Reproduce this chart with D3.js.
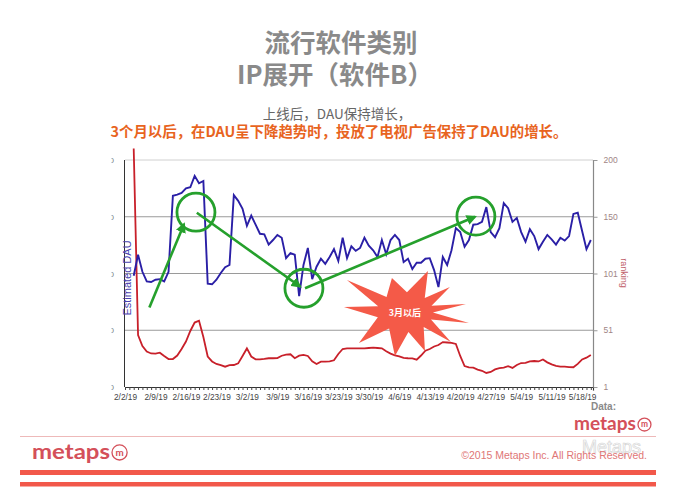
<!DOCTYPE html>
<html><head><meta charset="utf-8">
<script src="https://cdn.jsdelivr.net/npm/d3@7"></script>
<style>body{margin:0;background:#fff}svg{display:block}</style>
</head><body><svg id="c" width="674" height="495"></svg>
<script>
// ---------------- data ----------------
const firstDataDay = "2019-02-04";   // daily series start
const axisStart = "2019-02-02";
const axisEnd = "2019-05-20T12:00";
const weekLabels = ["2/2/19","2/9/19","2/16/19","2/23/19","3/2/19","3/9/19","3/16/19","3/23/19","3/30/19","4/6/19","4/13/19","4/20/19","4/27/19","5/4/19","5/11/19","5/18/19"];
const leftTickValues = [0, 1, 2, 3, 4];
const leftTickLabels = ["0","10,000","20,000","30,000","40,000"];
const rightTickValues = [1, 50.75, 100.5, 150.25, 200];
const rightTickLabels = ["1","51","101","150","200"];

// Estimated DAU (left axis, in 10k units)
const estimatedDAU = [1.96,2.33,2.03,1.86,1.85,1.89,1.90,1.86,2.03,3.37,3.39,3.42,3.50,3.52,3.72,3.59,3.63,1.82,1.81,1.89,
2.01,2.11,2.15,3.38,3.28,3.14,2.84,3.02,2.86,2.70,2.69,2.51,2.59,2.68,2.63,2.27,2.36,2.33,1.60,2.15,
2.45,1.90,2.12,2.26,2.17,2.29,2.43,2.22,2.63,2.27,2.48,2.40,2.45,2.63,2.49,2.41,2.29,2.59,2.34,2.59,
2.68,2.59,2.20,2.26,2.08,2.19,2.19,2.26,2.27,2.06,1.76,2.29,2.15,2.41,2.80,2.73,2.47,2.59,2.86,2.87,
2.91,3.17,2.73,2.64,2.80,3.24,3.15,2.91,2.98,2.73,2.56,2.78,2.66,2.43,2.56,2.68,2.60,2.51,2.63,2.58,
2.66,3.05,3.07,2.75,2.43,2.59];
// ranking (right axis)
const ranking = [210,46.6,36.9,32.1,30.4,30.3,31.1,28.2,25.5,25.5,28.6,34.3,40.9,50.1,57.5,59.1,44.8,27.7,23.4,21.2,
20.1,18.8,20.1,20.3,21.7,28.2,34.8,27.7,25.3,25.3,25.7,26.2,26.2,26.4,28.4,29.4,29.7,26.2,28.5,29.1,
28.2,23.5,21.2,23.2,23.2,23.4,24.4,29.9,34.3,34.9,34.9,34.9,34.9,34.9,35.2,35.5,35.2,34.9,32.3,30.3,
28.8,27.9,26.6,26.2,26.1,25.0,28.6,32.8,34.3,36.5,37.8,40.4,40.0,39.6,38.7,28.2,19.4,18.2,17.9,16.3,
15.2,13.3,14.2,16.4,17.5,18.0,19.3,17.7,20.3,22.0,22.2,23.4,23.8,23.4,25.1,22.6,20.8,19.5,18.8,18.8,
18.5,18.3,21.3,25.2,26.7,29.1];

// annotations in data units: [days after axis start, DAU value]
const circles = [[16.3,3.08],[41.1,1.74],[80.6,3.01]];
const arrows = [[[5.6,1.40],[13.55,2.87]],[[16.5,3.07],[40.2,1.77]],[[41.35,1.74],[80.4,3.0]]];
const burst = {day:64.3, value:1.32, label:"3月以后"};

// ---------------- chart ----------------
const svg = d3.select("#c");
const L=125, R=593, T=160, B=387;
const t0 = d3.isoParse(axisStart);
const x = d3.scaleTime().domain([t0, d3.isoParse(axisEnd)]).range([L,R]);
const yL = d3.scaleLinear().domain([0,4]).range([B,T]);
const yR = d3.scaleLinear().domain([1,200]).range([B,T]);
const dayAt = d => new Date(t0.getTime() + d*86400000);
const d0 = d3.isoParse(firstDataDay);
const dates = estimatedDAU.map((_,i)=>d3.timeDay.offset(d0,i));
const defs = svg.append("defs");

// gridlines
svg.append("g").selectAll("line").data(leftTickValues.slice(1)).join("line")
  .attr("x1",L).attr("x2",R).attr("y1",d=>yL(d)).attr("y2",d=>yL(d))
  .attr("stroke",d=>d===4?"#d0d0d0":"#9a9a9a").attr("stroke-width",1);

// left axis labels (clipped like the source)
defs.append("clipPath").attr("id","lc").append("rect")
  .attr("x",111.5).attr("y",140).attr("width",20).attr("height",260);
svg.append("g").attr("clip-path","url(#lc)").selectAll("text").data(leftTickValues).join("text")
  .attr("x",114).attr("y",d=>yL(d)+3).attr("text-anchor","end")
  .attr("font-family","Liberation Sans, Arial").attr("font-size",8).attr("fill","#777")
  .text((d,i)=>leftTickLabels[i]);

// axes lines
svg.append("line").attr("x1",L-0.5).attr("x2",L-0.5).attr("y1",T).attr("y2",B).attr("stroke","#333").attr("stroke-width",1);
svg.append("line").attr("x1",R+0.5).attr("x2",R+0.5).attr("y1",T).attr("y2",B+4).attr("stroke","#888").attr("stroke-width",1.2);

// bottom axis: daily minor ticks
const xAxisMinor = d3.axisBottom(x).ticks(d3.timeDay.every(1)).tickSize(3).tickFormat("");
const gm = svg.append("g").attr("transform",`translate(0,${B})`).call(xAxisMinor);
gm.select(".domain").attr("stroke","#333");
gm.selectAll(".tick line").attr("stroke","#444");
// weekly labels
const parseLbl = d3.timeParse("%m/%d/%y");
const xAxisLbl = d3.axisBottom(x).tickValues(weekLabels.map(parseLbl)).tickSize(0).tickPadding(7)
  .tickFormat(d3.timeFormat("%-m/%-d/%y"));
const gl = svg.append("g").attr("transform",`translate(0,${B})`).call(xAxisLbl);
gl.select(".domain").remove();
gl.selectAll("text").attr("font-family","Liberation Sans, Arial").attr("font-size",8.3).attr("fill","#444");

// right axis
const yAxisR = d3.axisRight(yR).tickValues(rightTickValues).tickSize(4).tickPadding(6)
  .tickFormat((d,i)=>rightTickLabels[i]);
const gr = svg.append("g").attr("transform",`translate(${R+0.5},0)`).call(yAxisR);
gr.select(".domain").remove();
gr.selectAll(".tick line").attr("stroke","#999");
gr.selectAll("text").attr("font-family","Liberation Sans, Arial").attr("font-size",8.5).attr("fill","#a08585");

svg.append("text").attr("transform",`translate(621,273) rotate(90)`).attr("text-anchor","middle")
  .attr("font-family","Liberation Sans, Arial").attr("font-size",9).attr("fill","#c0606a").text("ranking");

// lines
const lineR = d3.line().x((d,i)=>x(dates[i])).y(d=>yR(d));
const lineB = d3.line().x((d,i)=>x(dates[i])).y(d=>yL(d));
svg.append("path").attr("d",lineR(ranking)).attr("fill","none").attr("stroke","#c8202a").attr("stroke-width",1.8);
svg.append("path").attr("d",lineB(estimatedDAU)).attr("fill","none").attr("stroke","#2a1fa6").attr("stroke-width",1.9);

svg.append("text").attr("transform",`translate(131,278) rotate(-90)`).attr("text-anchor","middle")
  .attr("font-family","Liberation Sans, Arial").attr("font-size",11).attr("fill","#4a42b0").text("Estimated DAU");

// burst
const bx = x(dayAt(burst.day)), by = yL(burst.value);
const outer = [[-58,-32],[-13,-34],[23,-41],[45,-25],[61,-8],[64,11],[46,30],[20,39],[-10,44],[-46,31],[-61,-5]];
const pts = [];
outer.forEach((p,i)=>{
  const q = outer[(i+1)%outer.length];
  pts.push(p);
  const a1 = Math.atan2(p[1],p[0]), a2 = Math.atan2(q[1],q[0]);
  let da = a2-a1; if (da<0) da += 2*Math.PI;
  const am = a1 + da/2;
  pts.push([Math.cos(am)*28, Math.sin(am)*20]);
});
svg.append("polygon").attr("points",pts.map(p=>[bx+p[0],by+p[1]].join(",")).join(" "))
  .attr("fill","#f45a48");
svg.append("text").attr("x",bx).attr("y",by+4).attr("text-anchor","middle")
  .attr("font-family","Noto Sans CJK SC").attr("font-size",9).attr("font-weight","bold").attr("fill","#fff").text(burst.label);

// green annotations
const G = "#25a02c";
defs.append("marker").attr("id","ah").attr("viewBox","0 0 10 10").attr("refX",8).attr("refY",5)
  .attr("markerWidth",4).attr("markerHeight",4).attr("orient","auto")
  .append("path").attr("d","M0,0L10,5L0,10z").attr("fill",G);
svg.append("g").selectAll("line").data(arrows).join("line")
  .attr("x1",d=>x(dayAt(d[0][0]))).attr("y1",d=>yL(d[0][1]))
  .attr("x2",d=>x(dayAt(d[1][0]))).attr("y2",d=>yL(d[1][1]))
  .attr("stroke",G).attr("stroke-width",2.6).attr("marker-end","url(#ah)");
svg.append("g").selectAll("circle").data(circles).join("circle")
  .attr("cx",d=>x(dayAt(d[0]))).attr("cy",d=>yL(d[1])).attr("r",19)
  .attr("fill","none").attr("stroke",G).attr("stroke-width",2.8);

// titles
const cjk = "Noto Sans CJK SC, sans-serif";
svg.append("text").attr("x",341).attr("y",52).attr("text-anchor","middle").attr("font-family",cjk)
  .attr("font-size",25.5).attr("font-weight","bold").attr("fill","#8a8a8a").text("流行软件类别");
svg.append("text").attr("x",335).attr("y",84).attr("text-anchor","middle").attr("font-family",cjk)
  .attr("font-size",25.5).attr("font-weight","bold").attr("fill","#8a8a8a").text("IP展开（软件B）");
svg.append("text").attr("x",337).attr("y",119).attr("text-anchor","middle").attr("font-family",cjk)
  .attr("font-size",13.5).attr("fill","#666").text("上线后，DAU保持增长，");
svg.append("text").attr("x",339).attr("y",137).attr("text-anchor","middle").attr("font-family",cjk)
  .attr("font-size",14.4).attr("font-weight","bold").attr("fill","#e8641e").text("3个月以后，在DAU呈下降趋势时，投放了电视广告保持了DAU的增长。");

// data source logo
svg.append("text").attr("x",616).attr("y",410).attr("text-anchor","end").attr("font-family","Liberation Sans, Arial")
  .attr("font-size",10).attr("font-weight","bold").attr("fill","#8a8a8a").text("Data:");
function logo(x0, yb, size, w){
  svg.append("text").attr("x",x0).attr("y",yb).attr("font-family","Lato, Open Sans, sans-serif")
    .attr("textLength",w).attr("lengthAdjust","spacingAndGlyphs")
    .attr("font-size",size).attr("font-weight","bold").attr("fill","#d4505a").text("metaps");
  const r = size*0.36;
  const cx = x0 + w + r + 2, cy = yb - r + 1;
  svg.append("circle").attr("cx",cx).attr("cy",cy).attr("r",r).attr("fill","none").attr("stroke","#d4505a").attr("stroke-width",1.3);
  svg.append("text").attr("x",cx).attr("y",cy+r*0.45).attr("text-anchor","middle").attr("font-family","Lato, sans-serif")
    .attr("font-size",r*1.3).attr("font-weight","bold").attr("fill","#d4505a").text("m");
}
logo(574, 430, 18, 62);

// footer
svg.append("line").attr("x1",20).attr("x2",656).attr("y1",436.5).attr("y2",436.5).attr("stroke","#eeb9b9").attr("stroke-width",1);
logo(32, 459, 21, 78);
svg.append("text").attr("x",641).attr("y",453).attr("text-anchor","end").attr("font-family","Liberation Sans, Arial")
  .attr("font-size",18).attr("fill","none").attr("stroke","#d6d6d6").attr("stroke-width",0.7).text("Metaps");
svg.append("text").attr("x",647).attr("y",459).attr("text-anchor","end").attr("font-family","Liberation Sans, Arial")
  .attr("font-size",10.5).attr("fill","#e07676").text("©2015 Metaps Inc.  All Rights Reserved.");
svg.append("rect").attr("x",20).attr("y",470).attr("width",636).attr("height",5).attr("fill","#f2584a");
svg.append("rect").attr("x",20).attr("y",482).attr("width",636).attr("height",4.5).attr("fill","#f2584a");
</script></body></html>
